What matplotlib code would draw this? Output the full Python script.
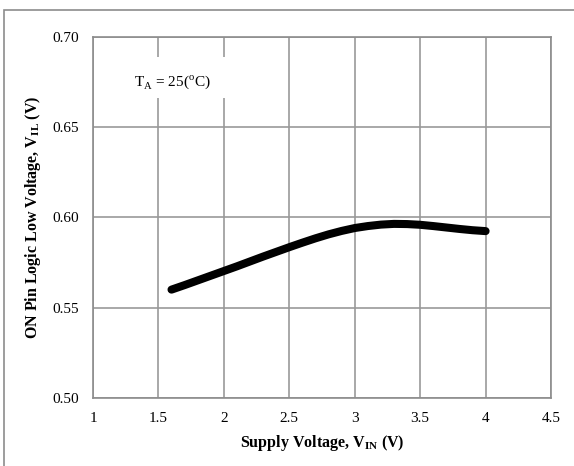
import matplotlib.pyplot as plt
from matplotlib.patches import Rectangle

plt.rcParams['font.family'] = 'Liberation Serif'
plt.rcParams['mathtext.fontset'] = 'custom'
plt.rcParams['mathtext.rm'] = 'Liberation Serif'

# supply voltage (V) and VIL (V)
vin = [1.6, 1.7, 1.8, 1.9, 2.0, 2.1, 2.2, 2.3, 2.4, 2.5, 2.6, 2.7, 2.8,
       2.9, 3.0, 3.1, 3.2, 3.3, 3.4, 3.5, 3.6, 3.7, 3.8, 3.9, 4.0]
vil = [0.5600, 0.5625, 0.5651, 0.5677, 0.5703, 0.5729, 0.5756, 0.5783, 0.5809,
       0.5835, 0.5860, 0.5884, 0.5906, 0.5925, 0.5941, 0.5952, 0.5960, 0.5964,
       0.5963, 0.5959, 0.5952, 0.5944, 0.5936, 0.5929, 0.5924]

x_ticks = [1, 1.5, 2, 2.5, 3, 3.5, 4, 4.5]
y_ticks = [0.50, 0.55, 0.60, 0.65, 0.70]

fig = plt.figure(figsize=(5.74, 4.66), dpi=100)
ax = fig.add_axes([0.162, 0.146, 0.798, 0.775])

# outer frame of the chart area
fig.patches.append(Rectangle((4 / 574, -0.1), 1.2, 1 - 10 / 466 + 0.1, transform=fig.transFigure,
                             fill=False, edgecolor='#8c8c8c', lw=1.2))

ax.plot(vin, vil, color='black', lw=5.8, solid_capstyle='round', solid_joinstyle='round', zorder=3)

ax.set_xlim(1, 4.5)
ax.set_ylim(0.50, 0.70)
ax.set_xticks(x_ticks)
ax.set_xticklabels(['1', '1.5', '2', '2.5', '3', '3.5', '4', '4.5'])
ax.set_yticks(y_ticks)
ax.set_yticklabels([f'{v:.2f}' for v in y_ticks])
ax.tick_params(length=0, labelsize=11, pad=10)
ax.grid(True, color='#999999', lw=1.2)
ax.set_axisbelow(True)
for s in ax.spines.values():
    s.set_color('#8c8c8c')
    s.set_linewidth(1.2)

ax.set_xlabel('Supply Voltage, V$_\\mathregular{IN}$ (V)', fontsize=11.5, fontweight='bold', labelpad=6)
ax.set_ylabel('ON Pin Logic Low Voltage, V$_\\mathregular{IL}$ (V)', fontsize=11.5, fontweight='bold', labelpad=7)

# label box for ambient temperature
ax.add_patch(Rectangle((0.026, 0.831), 0.29, 0.114, transform=ax.transAxes,
                       facecolor='white', edgecolor='none', zorder=2))
ax.text(0.09, 0.874, 'T$_\\mathregular{A}$ = 25($^\\mathregular{o}$C)', transform=ax.transAxes,
        fontsize=11, va='center', ha='left', zorder=4)

fig.savefig('out.png', dpi=100)
